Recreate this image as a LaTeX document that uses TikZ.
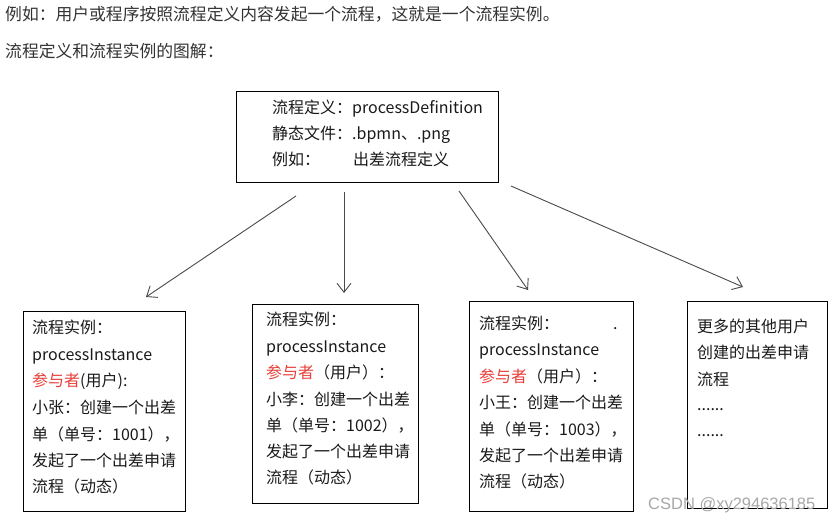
\documentclass[tikz,border=0pt]{standalone}
\usepackage{fontspec}
\setmainfont{Noto Sans CJK SC}
\newfontfamily\wmfont{Liberation Sans}
\usetikzlibrary{arrows.meta}
\definecolor{txtc}{HTML}{1A1A1A}
\definecolor{redc}{HTML}{E8403A}
\definecolor{arrc}{HTML}{4A4A4A}
\definecolor{wmc}{HTML}{A8A8A8}
\begin{document}
\begin{tikzpicture}[x=1pt,y=-1pt,
  ln/.style={anchor=west, inner sep=0pt, yshift=-2pt, text height=0.88em, text depth=0.12em, font=\fontsize{16}{18}\selectfont, text=txtc},
  hd/.style={ln, font=\fontsize{16.8}{20}\selectfont, text=black!80},
  box/.style={draw=black, line width=1.2pt, anchor=north west, inner sep=0pt},
  conn/.style={draw=arrc, line width=0.9pt, -{Straight Barb[length=9pt,width=14pt]}}]
\useasboundingbox[fill=white] (0,0) rectangle (833,523);

% heading lines
\node[hd] (h1) at (5,15) {例如：用户或程序按照流程定义内容发起一个流程，这就是一个流程实例。};
\node[hd] (h2) at (5,52) {流程定义和流程实例的图解：};

% top box
\node[box, minimum width=262, minimum height=91] (top) at (236,91) {};
\node[ln] (t1) at (272,108) {流程定义：processDefinition};
\node[ln] (t2) at (272,134) {静态文件：.bpmn、.png};
\node[ln] (t3) at (272,160) {例如：};
\node[ln] (t3b) at (353,160) {出差流程定义};

% box 1
\node[box, minimum width=162, minimum height=200] (b1) at (23,311) {};
\node[ln] (b1l1) at (32,328) {流程实例：};
\node[ln] (b1l2) at (32,355) {processInstance};
\node[ln] (b1l3) at (32,381) {\textcolor{redc}{参与者}(用户):};
\node[ln] (b1l4) at (32,408) {小张：创建一个出差};
\node[ln] (b1l5) at (32,435) {单（单号：1001），};
\node[ln] (b1l6) at (32,461) {发起了一个出差申请};
\node[ln] (b1l7) at (32,487) {流程（动态）};

% box 2
\node[box, minimum width=166, minimum height=199] (b2) at (252,304) {};
\node[ln] (b2l1) at (266,320) {流程实例：};
\node[ln] (b2l2) at (266,347) {processInstance};
\node[ln] (b2l3) at (266,373) {\textcolor{redc}{参与者}（用户）：};
\node[ln] (b2l4) at (266,400) {小李：创建一个出差};
\node[ln] (b2l5) at (266,426) {单（单号：1002），};
\node[ln] (b2l6) at (266,452) {发起了一个出差申请};
\node[ln] (b2l7) at (266,478) {流程（动态）};

% box 3
\node[box, minimum width=164, minimum height=210] (b3) at (469,301) {};
\node[ln] (b3l1) at (479,324) {流程实例：};
\node[ln] (b3dot) at (613,324) {.};
\node[ln] (b3l2) at (479,350) {processInstance};
\node[ln] (b3l3) at (479,377) {\textcolor{redc}{参与者}（用户）：};
\node[ln] (b3l4) at (479,403) {小王：创建一个出差};
\node[ln] (b3l5) at (479,430) {单（单号：1003），};
\node[ln] (b3l6) at (479,456) {发起了一个出差申请};
\node[ln] (b3l7) at (479,482) {流程（动态）};

% box 4
\node[box, minimum width=140, minimum height=207] (b4) at (687,301) {};
\node[ln] (b4l1) at (697,327) {更多的其他用户};
\node[ln] (b4l2) at (697,353) {创建的出差申请};
\node[ln] (b4l3) at (697,380) {流程};
\node[ln] (b4l4) at (697,405) {......};
\node[ln] (b4l5) at (697,431) {......};

% connectors
\coordinate (a1s) at (296,196); \coordinate (a1e) at (146,297);
\coordinate (a2s) at (344,192); \coordinate (a2e) at (344,293);
\coordinate (a3s) at (459,191); \coordinate (a3e) at (528,290);
\coordinate (a4s) at (511,186); \coordinate (a4e) at (743,287);
\draw[conn] (a1s) -- (a1e);
\draw[conn] (a2s) -- (a2e);
\draw[conn] (a3s) -- (a3e);
\draw[conn] (a4s) -- (a4e);

% watermark
\node[anchor=west, inner sep=0pt, font=\wmfont\fontsize{16.5}{18}\selectfont, text=wmc] (wm) at (648,505) {CSDN @xy294636185};
\end{tikzpicture}
\end{document}
